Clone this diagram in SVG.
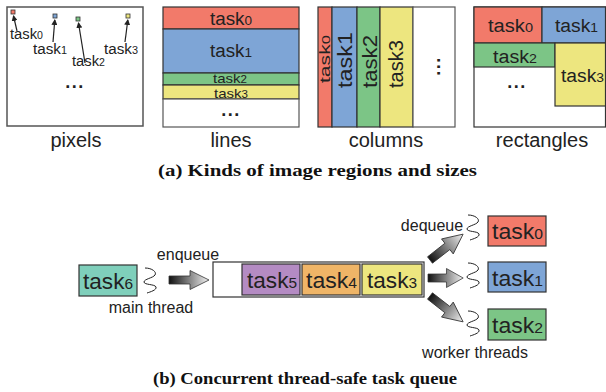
<svg xmlns="http://www.w3.org/2000/svg" width="606" height="392" viewBox="0 0 606 392">
<defs>
<style>
.sans{font-family:"Liberation Sans",Arial,sans-serif;fill:#222}
.cap{font-family:"Liberation Serif","Times New Roman",serif;font-weight:bold;font-size:16px;fill:#111}
.lbl{font-family:"Liberation Sans",Arial,sans-serif;font-size:20px;fill:#222;text-anchor:middle}
.box{stroke:#333;stroke-width:1.2}
.panel{fill:none;stroke:#555;stroke-width:1.5}
.red{fill:#F27A6A}.blue{fill:#7EA5D6}.green{fill:#7CC586}.yellow{fill:#EDE67F}
.purple{fill:#B48BC3}.orange{fill:#EFB567}.teal{fill:#7FCFBB}
.sq{fill:none;stroke:#222;stroke-width:1}
.parr{stroke:#222;stroke-width:1.2;fill:none}
.barrow{fill:url(#grad);stroke:#333;stroke-width:0.8}
</style>
<linearGradient id="grad" x1="0" y1="0" x2="1" y2="0">
<stop offset="0" stop-color="#111"/>
<stop offset="1" stop-color="#f2f2f2"/>
</linearGradient>
<marker id="ah" markerWidth="6" markerHeight="6" refX="5" refY="3" orient="auto" markerUnits="userSpaceOnUse">
<path d="M0,0 L6,3 L0,6 Z" fill="#222"/>
</marker>
<path id="arr" d="M0,-4 L21,-4 L21,-9.5 L40,0 L21,9.5 L21,4 L0,4 Z"/>
<path id="squig" d="M-5,-12 C2,-12 7,-8 5,-5 C3,-2 -6,-1 -6,2 C-6,5 5,4 6,7 C7,10 0,12 -3,13"/>
</defs>

<!-- (a) pixels -->
<g id="pixels">
<rect class="panel" x="7" y="7" width="136" height="119"/>
<rect x="11" y="10" width="4" height="4" fill="#F27A6A" stroke="#333" stroke-width="0.8"/>
<rect x="53" y="14" width="4" height="4" fill="#7EA5D6" stroke="#333" stroke-width="0.8"/>
<rect x="76" y="17" width="4" height="4" fill="#7CC586" stroke="#333" stroke-width="0.8"/>
<rect x="126" y="14" width="4" height="4" fill="#EDE67F" stroke="#333" stroke-width="0.8"/>
<line class="parr" x1="17" y1="31" x2="13.5" y2="16" marker-end="url(#ah)"/>
<line class="parr" x1="53" y1="42" x2="54.8" y2="20" marker-end="url(#ah)"/>
<line class="parr" x1="85" y1="63" x2="78.5" y2="23" marker-end="url(#ah)"/>
<line class="parr" x1="125" y1="42" x2="127.8" y2="20" marker-end="url(#ah)"/>
<text class="sans" x="10" y="39" font-size="14" textLength="33" lengthAdjust="spacingAndGlyphs">task<tspan font-size="10">0</tspan></text>
<text class="sans" x="33" y="54" font-size="14" textLength="34" lengthAdjust="spacingAndGlyphs">task<tspan font-size="10">1</tspan></text>
<text class="sans" x="72" y="66" font-size="14" textLength="33" lengthAdjust="spacingAndGlyphs">task<tspan font-size="10">2</tspan></text>
<text class="sans" x="104" y="54" font-size="14" textLength="34" lengthAdjust="spacingAndGlyphs">task<tspan font-size="10">3</tspan></text>
<text class="sans" x="75" y="88" font-size="18" font-weight="bold" text-anchor="middle" letter-spacing="1.5">...</text>
<text class="lbl" x="76" y="147">pixels</text>
</g>

<!-- (a) lines -->
<g id="lines">
<rect class="box red" x="163" y="7" width="136" height="22"/>
<rect class="box blue" x="163" y="29" width="136" height="44"/>
<rect class="box green" x="163" y="73" width="136" height="12"/>
<rect class="box yellow" x="163" y="85" width="136" height="14"/>
<rect x="163" y="99" width="136" height="28" fill="#fff" stroke="#555" stroke-width="1.2"/>
<text class="sans" x="210" y="25" font-size="18" textLength="42" lengthAdjust="spacingAndGlyphs">task<tspan font-size="13">0</tspan></text>
<text class="sans" x="210" y="57" font-size="18" textLength="42" lengthAdjust="spacingAndGlyphs">task<tspan font-size="13">1</tspan></text>
<text class="sans" x="213" y="82.5" font-size="13" textLength="34" lengthAdjust="spacingAndGlyphs">task<tspan font-size="10">2</tspan></text>
<text class="sans" x="214" y="97.5" font-size="13" textLength="34" lengthAdjust="spacingAndGlyphs">task<tspan font-size="10">3</tspan></text>
<text class="sans" x="231" y="116" font-size="18" font-weight="bold" text-anchor="middle" letter-spacing="1.5">...</text>
<text class="lbl" x="231" y="147">lines</text>
</g>

<!-- (a) columns -->
<g id="columns">
<rect class="box red" x="318" y="7" width="14" height="120"/>
<rect class="box blue" x="332" y="7" width="25" height="120"/>
<rect class="box green" x="357" y="7" width="23" height="120"/>
<rect class="box yellow" x="380" y="7" width="33" height="120"/>
<rect x="413" y="7" width="42" height="120" fill="#fff" stroke="#555" stroke-width="1.2"/>
<text class="sans" transform="translate(330,59) rotate(-90)" font-size="14" text-anchor="middle" textLength="48" lengthAdjust="spacingAndGlyphs">task<tspan font-size="11">0</tspan></text>
<text class="sans" transform="translate(352,60) rotate(-90)" font-size="20" text-anchor="middle" textLength="56" lengthAdjust="spacingAndGlyphs">task1</text>
<text class="sans" transform="translate(377,61.5) rotate(-90)" font-size="20" text-anchor="middle" textLength="53" lengthAdjust="spacingAndGlyphs">task2</text>
<text class="sans" transform="translate(403,64) rotate(-90)" font-size="20" text-anchor="middle" textLength="48" lengthAdjust="spacingAndGlyphs">task3</text>
<text class="sans" transform="translate(440,66) rotate(-90)" font-size="18" font-weight="bold" text-anchor="middle" letter-spacing="1.5">...</text>
<text class="lbl" x="386" y="147">columns</text>
</g>

<!-- (a) rectangles -->
<g id="rectangles">
<rect x="474" y="7" width="131.5" height="120" fill="#fff" stroke="#333" stroke-width="1.2"/>
<rect class="box red" x="474" y="7" width="68" height="36"/>
<rect class="box blue" x="542" y="7" width="63.5" height="36"/>
<rect class="box green" x="474" y="43" width="81" height="24"/>
<rect class="box yellow" x="555" y="43" width="50.5" height="63"/>
<text class="sans" x="488" y="32" font-size="18" textLength="45" lengthAdjust="spacingAndGlyphs">task<tspan font-size="13">0</tspan></text>
<text class="sans" x="555" y="32" font-size="18" textLength="43" lengthAdjust="spacingAndGlyphs">task<tspan font-size="13">1</tspan></text>
<text class="sans" x="493" y="63" font-size="18" textLength="44" lengthAdjust="spacingAndGlyphs">task<tspan font-size="13">2</tspan></text>
<text class="sans" x="561" y="82" font-size="18" textLength="43" lengthAdjust="spacingAndGlyphs">task<tspan font-size="13">3</tspan></text>
<text class="sans" x="517" y="88" font-size="18" font-weight="bold" text-anchor="middle" letter-spacing="1.5">...</text>
<text class="lbl" x="542" y="147">rectangles</text>
</g>

<text class="cap" x="158" y="176" textLength="319" lengthAdjust="spacingAndGlyphs">(a) Kinds of image regions and sizes</text>

<!-- (b) queue -->
<g id="task6">
<rect class="box teal" x="79" y="265" width="58" height="31"/>
<text class="sans" x="108" y="289" font-size="22" text-anchor="middle" textLength="50" lengthAdjust="spacingAndGlyphs">task<tspan font-size="15">6</tspan></text>
<text class="sans" x="151" y="313" font-size="16" text-anchor="middle">main thread</text>
</g>

<g id="queue">
<rect x="213" y="262" width="211" height="35" fill="#fff" stroke="#333" stroke-width="1.2"/>
<rect class="box purple" x="242" y="264" width="58" height="31"/>
<rect class="box orange" x="302" y="264" width="58" height="31"/>
<rect class="box yellow" x="362" y="264" width="60" height="31"/>
<text class="sans" x="272" y="288" font-size="22" text-anchor="middle" textLength="50" lengthAdjust="spacingAndGlyphs">task<tspan font-size="15">5</tspan></text>
<text class="sans" x="331.5" y="288" font-size="22" text-anchor="middle" textLength="51" lengthAdjust="spacingAndGlyphs">task<tspan font-size="15">4</tspan></text>
<text class="sans" x="392" y="288" font-size="22" text-anchor="middle" textLength="50" lengthAdjust="spacingAndGlyphs">task<tspan font-size="15">3</tspan></text>
</g>

<g id="task0">
<rect class="box red" x="488" y="216" width="58" height="30"/>
<text class="sans" x="517.5" y="239" font-size="22" text-anchor="middle" textLength="51" lengthAdjust="spacingAndGlyphs">task<tspan font-size="15">0</tspan></text>
</g>
<g id="task1">
<rect class="box blue" x="488" y="262" width="58" height="30"/>
<text class="sans" x="517.5" y="286" font-size="22" text-anchor="middle" textLength="51" lengthAdjust="spacingAndGlyphs">task<tspan font-size="15">1</tspan></text>
</g>
<g id="task2">
<rect class="box green" x="488" y="309" width="58" height="31"/>
<text class="sans" x="517.5" y="333" font-size="22" text-anchor="middle" textLength="51" lengthAdjust="spacingAndGlyphs">task<tspan font-size="15">2</tspan></text>
</g>

<g id="connectors">
<use href="#arr" class="barrow" transform="translate(169,280)"/>
<use href="#arr" class="barrow" transform="translate(428,278) scale(0.88,1)"/>
<use href="#arr" class="barrow" transform="translate(430,260) rotate(-38) scale(1.05,1)"/>
<use href="#arr" class="barrow" transform="translate(430,296) rotate(38) scale(1.05,1)"/>
<use href="#squig" class="sq" transform="translate(150,280)"/>
<use href="#squig" class="sq" transform="translate(473,227)"/>
<use href="#squig" class="sq" transform="translate(473,275)"/>
<use href="#squig" class="sq" transform="translate(473,323)"/>
<text class="sans" x="188" y="260" font-size="16" text-anchor="middle">enqueue</text>
<text class="sans" x="432" y="231" font-size="16" text-anchor="middle">dequeue</text>
<text class="sans" x="475" y="358" font-size="16" text-anchor="middle">worker threads</text>
</g>

<text class="cap" x="153" y="384" textLength="304" lengthAdjust="spacingAndGlyphs">(b) Concurrent thread-safe task queue</text>
</svg>
